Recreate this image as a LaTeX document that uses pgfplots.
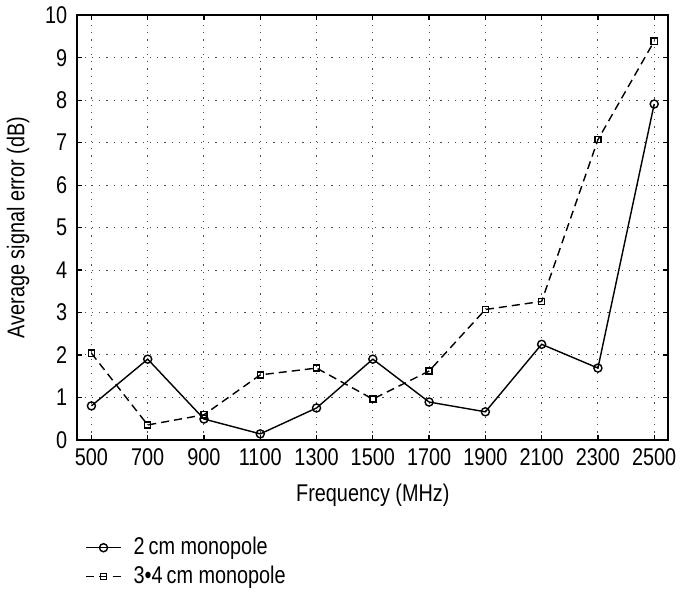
\documentclass[border=0pt]{standalone}
\usepackage{fontspec}
\setmainfont{Liberation Sans}[FakeStretch=0.82]
\usepackage{pgfplots}
\pgfplotsset{compat=1.18}

\begin{document}
\begin{tikzpicture}
\begin{axis}[
    scale only axis,
    width=293pt, height=210.5pt,
    xmin=450, xmax=2550,
    ymin=0, ymax=10,
    xtick={500,700,...,2500},
    ytick={0,1,...,10},
    tick align=inside,
    major tick length=2.5pt,
    xmajorgrids, ymajorgrids,
    grid style={black!70, dash pattern=on 0.6pt off 3pt, line width=0.5pt},
    axis line style={line width=0.9pt},
    tick style={black, line width=0.6pt},
    /pgf/number format/assume math mode=true,
    /pgf/number format/1000 sep={},
    ticklabel style={font=\fontsize{12}{14}\selectfont},
    xticklabel style={yshift=-1pt},
    yticklabel style={xshift=-1.5pt},
    label style={font=\fontsize{12}{14}\selectfont},
    xlabel={Frequency (MHz)},
    ylabel={Average signal error (dB)},
    xlabel style={yshift=-2pt},
    ylabel style={yshift=1pt},
    legend style={draw=none, fill=none, at={(rel axis cs:0.003,-0.21)}, anchor=north west,
        font=\fontsize{12}{14}\selectfont, row sep=0pt, cells={anchor=west},
        nodes={inner xsep=6pt}},
    legend cell align=left,
]
\addplot[black, line width=0.7pt, mark=o, mark size=2pt, mark options={solid}] coordinates {
    (500,0.80) (700,1.90) (900,0.49) (1100,0.14) (1300,0.75) (1500,1.90)
    (1700,0.89) (1900,0.66) (2100,2.25) (2300,1.69) (2500,7.91)
};
\addlegendentry{2\,cm monopole}
\addplot[black, line width=0.7pt, dash pattern=on 4pt off 2.5pt, mark=square, mark size=1.5pt, mark options={solid}] coordinates {
    (500,2.04) (700,0.35) (900,0.59) (1100,1.53) (1300,1.69) (1500,0.96)
    (1700,1.62) (1900,3.07) (2100,3.26) (2300,7.07) (2500,9.39)
};
\addlegendentry{3•4\,cm monopole}
\end{axis}
\path (current axis.south east) ++(6.5pt,0);
\end{tikzpicture}
\end{document}
